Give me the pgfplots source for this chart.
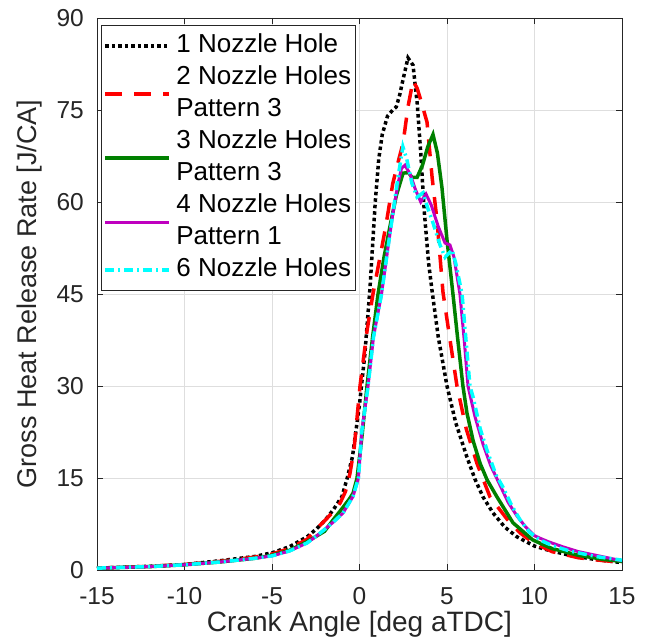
\documentclass[border=0pt]{standalone}
\usepackage{fontspec}
\setmainfont{Liberation Sans}
\usepackage{pgfplots}
\pgfplotsset{compat=1.18}
\definecolor{txt}{rgb}{0.15,0.15,0.15}
\definecolor{mgreen}{rgb}{0,0.5,0}
\definecolor{mmag}{rgb}{0.75,0,0.75}
\definecolor{mcyan}{rgb}{0,1,1}
\definecolor{mred}{rgb}{1,0,0}
\definecolor{gridc}{rgb}{0.87,0.87,0.87}
\pgfplotsset{
  twoline/.style={legend image code/.code={\path[draw=none,fill=none] (0pt,-3pt) rectangle (64pt,3pt); \draw[##1,overlay] (0pt,-16pt) -- (64pt,-16pt);}},
}
\begin{document}
\begin{tikzpicture}
\begin{axis}[
  scale only axis, width=525pt, height=552pt,
  xmin=-15, xmax=15, ymin=0, ymax=90,
  xtick={-15,-10,...,15}, ytick={0,15,...,90},
  /pgf/number format/assume math mode=true,
  tick align=inside, tick pos=both, major tick length=6pt,
  axis line style={txt, line width=0.8pt},
  every tick/.style={txt, line width=0.8pt},
  grid=major, major grid style={gridc, line width=0.8pt},
  ticklabel style={font=\fontsize{24.5}{28}\selectfont, text=txt},
  xticklabel style={anchor=north, inner sep=0pt, yshift=-17pt},
  yticklabel style={anchor=east, inner sep=0pt, xshift=-13pt},
  xlabel={Crank Angle [deg aTDC]},
  ylabel={Gross Heat Release Rate [J/CA]},
  every axis x label/.style={at={(axis description cs:0.5,0)}, anchor=base, yshift=-62pt, inner sep=0pt, font=\fontsize{28}{32}\selectfont, text=txt},
  every axis y label/.style={at={(axis description cs:-0.1143,0.5)}, rotate=90, anchor=base, inner sep=0pt, font=\fontsize{27}{32}\selectfont, text=txt},
  legend cell align=left,
  legend style={at={(axis description cs:0.0076,0.987)}, anchor=north west,
    draw=txt, line width=0.8pt, fill=white, inner xsep=4pt, inner ysep=4.5pt,
    row sep=0pt, column sep=7pt,
    nodes={inner sep=0pt, text height=22pt, text depth=10pt, font=\fontsize{26}{32}\selectfont, text=black}},
  legend image code/.code={\path[draw=none,fill=none] (0pt,-3pt) rectangle (64pt,3pt); \draw[#1,overlay] (0pt,0pt) -- (64pt,0pt);},
]
\addplot[black, line width=3.5pt, dash pattern=on 3.5pt off 3pt] coordinates {
(-15,0.3) (-12,0.6) (-10,0.9) (-8,1.5) (-6,2.2) (-5,2.8) (-4,3.8) (-3,5.4) (-2.5,6.6) (-2,8) (-1.5,9.8) (-1,12) (-0.7,15) (-0.4,18.5) (0,27) (0.3,35) (0.6,46) (0.9,60) (1.1,67) (1.3,71) (1.6,74) (1.9,75) (2.1,75.5) (2.3,77.5) (2.49,80) (2.77,83.5) (3.06,82.3) (3.3,76) (3.5,68) (3.7,58.5) (3.95,50) (4.17,45) (4.5,38) (5,30) (5.5,24) (6.14,18.4) (6.6,14.8) (7.06,11.9) (7.63,9.3) (8.3,7) (9,5.4) (10,3.9) (10.7,3.3) (12,2.4) (13.5,1.7) (15,1.2)
};
\addlegendentry{1 Nozzle Hole}
\addplot[mred, line width=3.5pt, dash pattern=on 17pt off 12pt, twoline] coordinates {
(-15,0.3) (-12,0.6) (-10,0.9) (-8,1.4) (-6,2.1) (-5,2.6) (-4,3.5) (-3,5) (-2.43,6.8) (-2,8) (-1.5,9.5) (-1.11,10.9) (-0.8,12.8) (-0.54,15.8) (-0.3,20) (0.03,30) (0.43,39) (0.77,45) (1.17,51) (1.5,56) (1.9,63) (2.25,67) (2.49,69.6) (2.77,75.5) (3.06,79.8) (3.3,78.5) (3.46,77) (3.86,73) (4.15,64) (4.43,57) (4.77,45.3) (5.2,37) (5.57,30) (6.1,23) (6.71,17.4) (7.46,11.9) (8.43,8.3) (9.2,6) (9.91,4.5) (11,3.0) (12.5,2.0) (14,1.5) (15,1.3)
};
\addlegendentry{2 Nozzle Holes}
\addlegendimage{empty legend}
\addlegendentry{Pattern 3}
\addplot[mgreen, line width=3.5pt, twoline] coordinates {
(-15,0.3) (-12,0.55) (-10,0.85) (-8,1.3) (-6,1.9) (-5,2.4) (-4,3.2) (-3,4.6) (-2,6.3) (-1.5,8.2) (-1,10) (-0.6,11.5) (-0.37,12.5) (-0.14,15) (0.15,22) (0.43,30) (0.75,38) (1.06,45) (1.4,51) (1.74,56) (2.1,61) (2.49,64.7) (2.8,64.8) (3.0,64) (3.29,64) (3.6,66) (3.9,69) (4.2,71) (4.45,68) (4.71,62.4) (5,53.8) (5.34,45) (5.6,38) (5.91,30) (6.14,25.6) (6.5,21) (6.89,17.4) (7.29,14.7) (7.86,11.9) (8.77,7.7) (9.9,4.9) (11,3.5) (12.5,2.4) (14,1.7) (15,1.4)
};
\addlegendentry{3 Nozzle Holes}
\addlegendimage{empty legend}
\addlegendentry{Pattern 3}
\addplot[mmag, line width=3pt, twoline] coordinates {
(-15,0.3) (-12,0.55) (-10,0.85) (-8,1.3) (-6,1.9) (-5,2.3) (-4,3.1) (-3,4.4) (-2.43,5.6) (-2,6.6) (-1.5,7.8) (-0.94,9.3) (-0.37,12) (-0.06,15) (0.14,22.8) (0.49,30) (0.8,38) (1.26,45) (1.6,52) (1.9,58) (2.2,63) (2.4,65.5) (2.6,66) (2.9,64.5) (3.2,62) (3.5,60) (3.8,61.3) (4.1,59.5) (4.5,56) (4.89,53.3) (5.17,53) (5.4,51) (5.74,45) (6.0,37) (6.2,30) (6.6,25) (7.06,20.5) (7.5,17) (8,14) (8.5,11) (9,8.8) (9.5,7) (10,5.6) (10.3,5.2) (10.8,4.6) (11.6,3.8) (12.5,3.0) (14,2.1) (15,1.5)
};
\addlegendentry{4 Nozzle Holes}
\addlegendimage{empty legend}
\addlegendentry{Pattern 1}
\addplot[mcyan, line width=3.5pt, dash pattern=on 9pt off 4pt on 2pt off 4pt] coordinates {
(-15,0.3) (-12,0.55) (-10,0.85) (-8,1.3) (-6,1.9) (-5,2.3) (-4,3.1) (-3,4.4) (-2.43,5.6) (-2,6.6) (-1.5,7.8) (-0.94,9.3) (-0.37,12) (-0.06,15) (0.14,22.8) (0.49,30) (0.8,38) (1.26,45) (1.6,52) (1.9,58) (2.2,64) (2.48,69) (2.7,67) (3.0,63) (3.29,60.8) (3.63,61.5) (3.9,59) (4.2,56.6) (4.6,53) (4.89,51) (5.29,52.2) (5.5,50) (5.86,45) (6.1,37) (6.31,30) (6.49,28.2) (6.9,23) (7.29,19.5) (7.8,15.5) (8.2,13.5) (8.7,10.5) (9.17,8.2) (9.7,6.2) (10.3,4.9) (11,4.0) (12,3.1) (13.5,2.2) (15,1.6)
};
\addlegendentry{6 Nozzle Holes}
\end{axis}
\pgfresetboundingbox
\path (-97pt,-74pt) rectangle (552pt,570pt);
\end{tikzpicture}
\end{document}
